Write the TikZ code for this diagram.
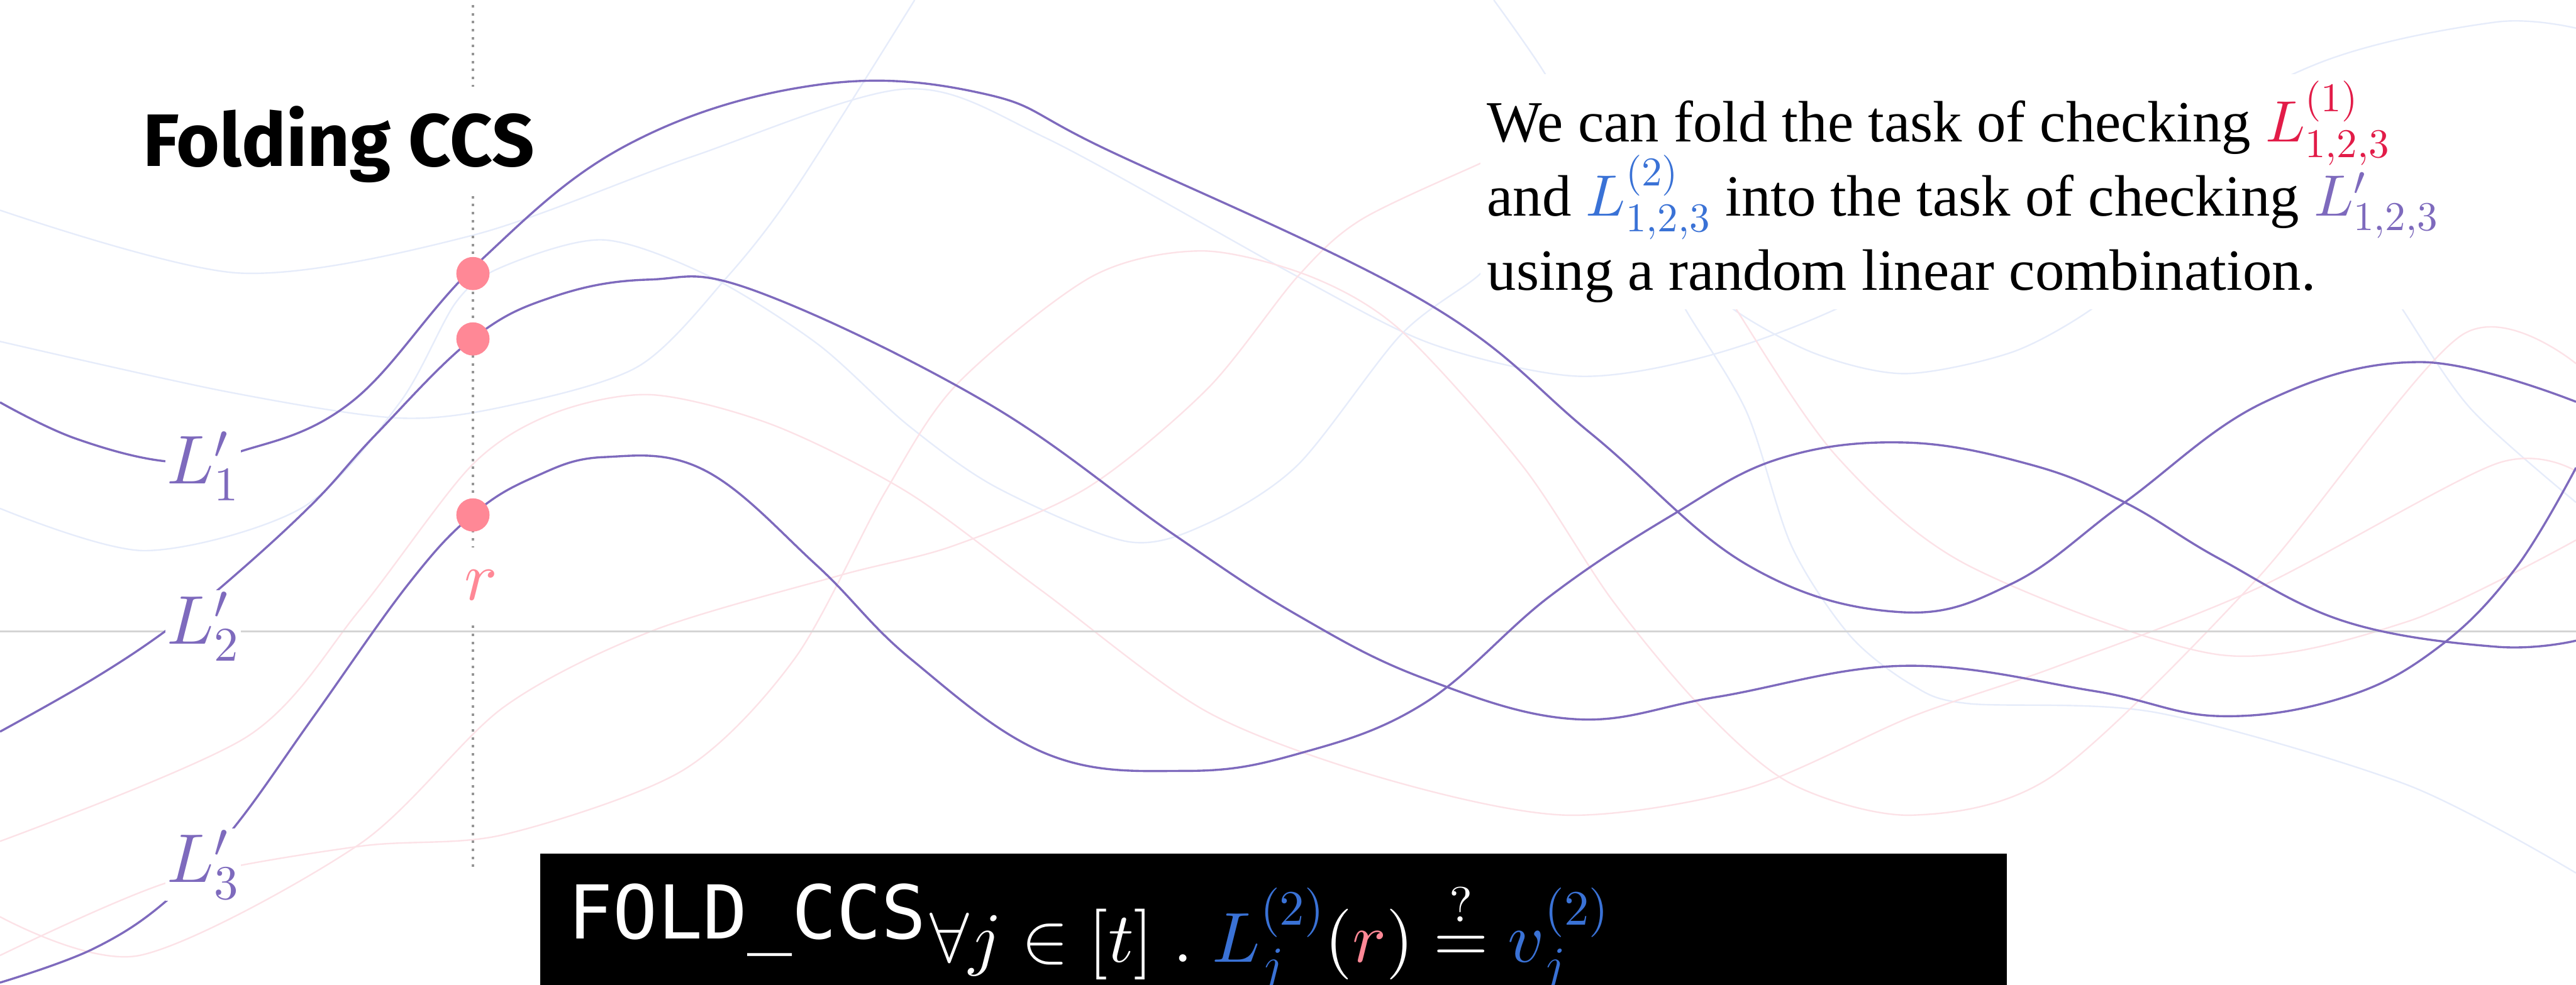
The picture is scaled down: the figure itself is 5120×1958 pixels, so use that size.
\documentclass[tikz,border=0pt]{standalone}
\usepackage{amsmath,amssymb}
\DeclareFontShape{OML}{cmm}{m}{it}{<->cmmi10}{}
\DeclareFontShape{OMS}{cmsy}{m}{n}{<->cmsy10}{}
\DeclareFontShape{OMX}{cmex}{m}{n}{<->cmex10}{}
\DeclareFontShape{OT1}{cmr}{m}{n}{<->cmr10}{}
\usepackage{fontspec}
\setmainfont{Liberation Serif}
\newfontfamily\headfont{Fira Sans}
\newfontfamily\codefont{DejaVu Sans Mono}
\usepackage{xcolor}
\usepackage{tikz}
\usetikzlibrary{positioning}
\definecolor{foldpurple}{RGB}{126,106,189}
\definecolor{rpink}{RGB}{255,136,150}
\definecolor{firstred}{RGB}{226,28,72}
\definecolor{secondblue}{RGB}{58,114,214}
\definecolor{paleblue}{RGB}{230,236,250}
\definecolor{palepink}{RGB}{252,226,231}
\definecolor{axisgray}{RGB}{212,212,212}
\definecolor{guidegray}{RGB}{150,150,150}

\begin{document}
\begin{tikzpicture}[x=0.01cm, y=-0.01cm,
    lin/.style={foldpurple, line width=1.2pt},
    ghostb/.style={paleblue, line width=0.85pt},
    ghostp/.style={palepink, line width=0.85pt},
    lbl/.style={fill=white, inner sep=1pt, text=foldpurple, font=\fontsize{39}{47}\selectfont},
    evalpt/.style={circle, fill=rpink, minimum size=0.66cm, inner sep=0pt}]
  \useasboundingbox (0,0) rectangle (5120,1958);
  \clip (0,0) rectangle (5120,1958);

  % faint background polynomials
  \draw[ghostb] plot[smooth] coordinates {(0,418) (475,543) (939,468) (1374,312) (1800,177) (2080,275) (2579,550) (2846,684) (3132,748) (3382,711) (3655,612) (4100,380) (4610,125) (4960,44) (5120,56)};
  \draw[ghostb] plot[smooth] coordinates {(0,679) (446,778) (786,831) (1000,809) (1268,729) (1446,550) (1581,375) (1818,0)};
  \draw[ghostb] plot[smooth] coordinates {(0,1011) (287,1095) (600,1010) (795,800) (907,600) (1000,530) (1199,477) (1411,550) (1625,684) (1804,845) (1982,970) (2241,1077) (2400,1041) (2579,925) (2784,666) (2936,550) (3000,480)};
  \draw[ghostb] plot[smooth] coordinates {(3300,500) (3346,608) (3471,818) (3561,1086) (3677,1264) (3800,1362) (3911,1399) (4286,1417) (4785,1561) (5120,1736)};
  \draw[ghostb] plot[smooth] coordinates {(4700,500) (4773,612) (4910,812) (5120,999)};
  \draw[ghostb] plot[smooth] coordinates {(3380,520) (3436,608) (3605,702) (3786,743) (4000,700) (4161,612) (4250,520)};
  \draw[ghostb] plot[smooth] coordinates {(2969,0) (3071,147) (3150,300)};
  \draw[ghostp] plot[smooth] coordinates {(0,1673) (491,1465) (714,1214) (937,926) (1100,822) (1295,785) (1536,845) (1804,979) (2071,1175) (2400,1416) (2757,1550) (3114,1621) (3471,1568) (3800,1425) (4081,1328) (4486,1170) (4959,923) (5120,937)};
  \draw[ghostp] plot[smooth] coordinates {(0,1823) (277,1900) (714,1679) (1000,1407) (1295,1255) (1670,1144) (1893,1086) (2161,970) (2400,773) (2579,550) (2705,437) (2942,325) (3000,300)};
  \draw[ghostp] plot[smooth] coordinates {(0,1900) (339,1753) (714,1683) (1000,1660) (1357,1532) (1580,1309) (1759,979) (1902,764) (2170,550) (2389,499) (2605,550) (2784,657) (3025,925) (3204,1193) (3382,1407) (3561,1559) (3800,1621) (4081,1542) (4486,1151) (4892,667) (5120,723)};
  \draw[ghostp] plot[smooth] coordinates {(3400,520) (3449,612) (3650,907) (3911,1124) (4411,1302) (4785,1236) (5120,1074)};

  % axis and evaluation point
  \coordinate (axisw) at (0,1256);
  \coordinate (axise) at (5120,1256);
  \draw[axisgray, line width=1.1pt] (axisw) -- (axise);
  \coordinate (guidetop) at (940,10);
  \coordinate (guidebot) at (940,1727);
  \draw[guidegray, line width=1.4pt, dash pattern=on 1.4pt off 3.1pt] (guidetop) -- (guidebot);

  % folded polynomials
  \draw[lin] plot[smooth, tension=0.65] coordinates {(0,800) (150,872) (337,918) (474,899) (699,799) (949,524) (1249,287) (1623,169) (1958,187) (2205,300) (2830,599) (3162,862) (3474,1124) (3774,1217) (4000,1160) (4223,999) (4500,800) (4810,720) (5120,799)};
  \draw[lin] plot[smooth, tension=0.65] coordinates {(0,1455) (187,1349) (337,1249) (468,1143) (624,999) (749,862) (939,674) (1100,590) (1290,556) (1500,578) (1958,799) (2330,1061) (2580,1224) (2830,1349) (3129,1430) (3412,1386) (3786,1324) (4161,1374) (4411,1424) (4661,1386) (4848,1286) (5000,1130) (5120,930)};
  \draw[lin] plot[smooth, tension=0.65] coordinates {(0,1954) (187,1886) (337,1786) (468,1642) (624,1424) (812,1161) (939,1024) (1061,949) (1200,909) (1400,935) (1623,1124) (1811,1311) (2080,1499) (2355,1533) (2580,1499) (2830,1399) (3080,1186) (3324,1024) (3537,912) (3786,880) (4036,924) (4223,999) (4411,1111) (4661,1236) (4960,1286) (5120,1274)};

  \node[anchor=base, fill=white, inner xsep=0.1cm, inner ysep=0pt, text height=1.59cm, text depth=0.49cm,
        font=\headfont\bfseries\fontsize{42}{50}\selectfont] (title) at (673,331) {Folding CCS};
  \node[anchor=north west, fill=white, inner xsep=0.13cm, inner ysep=0.13cm, align=left,
        font=\fontsize{33}{42}\selectfont] (note) at (2942,147)
    {We can fold the task of checking $\textcolor{firstred}{\smash[b]{L^{(1)}_{1,2,3}}}$\\
     and $\textcolor{secondblue}{\smash{L^{(2)}_{1,2,3}}}$ into the task of checking $\textcolor{foldpurple}{\smash{L'_{1,2,3}}}$\\
     using a random linear combination.};

  \foreach \i/\y in {1/962, 2/1280, 3/1754}
    \node[lbl, anchor=base] (lab\i) at (404,\y) {$L'_{\i}$};
  \node[anchor=base, fill=white, text=rpink, inner xsep=0.1cm, inner ysep=0.45cm,
        font=\fontsize{39}{47}\selectfont] (rlabel) at (956,1193) {$r$};
  \foreach \y [count=\k] in {544,674,1024}
    \node[evalpt] (pt\k) at (940,\y) {};

  % claim bar
  \node[fill=black, anchor=north west, minimum width=29.13cm, minimum height=2.7cm, inner sep=0pt] (claimbox) at (1073,1697) {};
  \node[anchor=base west, inner sep=0pt, text=white, font=\codefont\fontsize{42}{50}\selectfont] (foldname) at (1129,1867) {FOLD\_CCS};
  \node[anchor=base west, inner sep=0pt, text=white, font=\fontsize{40}{48}\selectfont] (foldclaim)
    at ([xshift=0.05cm, yshift=-0.46cm]foldname.base east)
    {$\forall j \in [t]\;.\;\textcolor{secondblue}{L_j^{(2)}}(\textcolor{rpink}{r}) \stackrel{?}{=} \textcolor{secondblue}{v_j^{(2)}}$};
\end{tikzpicture}
\end{document}
